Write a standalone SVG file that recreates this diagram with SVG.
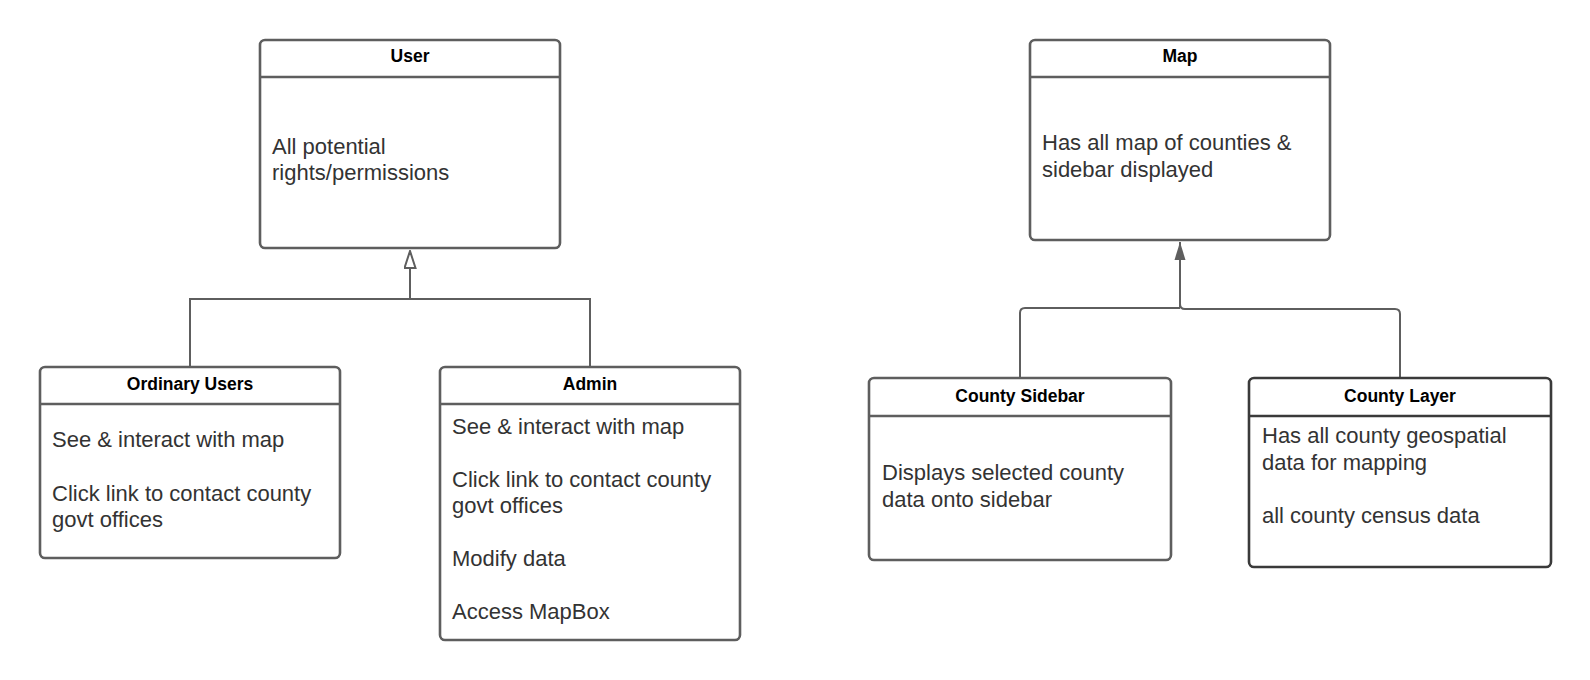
<svg xmlns="http://www.w3.org/2000/svg" width="1590" height="680" viewBox="0 0 1590 680">
<style>
.box{fill:#ffffff;stroke:#5e5e5e;stroke-width:2.6}
.dark{stroke:#3a3a3a}
.div{stroke:#5e5e5e;stroke-width:2.6}
.divd{stroke:#3a3a3a;stroke-width:2.6}
.title{font-family:"Liberation Sans",Arial,sans-serif;font-size:17.5px;font-weight:bold;fill:#000000;text-anchor:middle}
.body{font-family:"Liberation Sans",Arial,sans-serif;font-size:22px;fill:#333333}
.conn{fill:none;stroke:#5e5e5e;stroke-width:2}
</style>
<defs>
<marker id="hollow" markerWidth="19" markerHeight="13" refX="18" refY="6.5" orient="auto" markerUnits="userSpaceOnUse" viewBox="0 0 19 13">
<path d="M18,6.5 L1,1 L1,12 Z" fill="#ffffff" stroke="#5e5e5e" stroke-width="2" stroke-linejoin="miter"/>
</marker>
<marker id="filled" markerWidth="19" markerHeight="13" refX="18" refY="6.5" orient="auto" markerUnits="userSpaceOnUse" viewBox="0 0 19 13">
<path d="M18,6.5 L0,1 L0,12 Z" fill="#5e5e5e" stroke="none"/>
</marker>
</defs>
<rect width="1590" height="680" fill="#ffffff"/>
<g id="connectors">
<path class="conn" d="M190,367 V299 H590 V367"/>
<path class="conn" d="M410,299 V251" marker-end="url(#hollow)"/>
<path class="conn" d="M1020,378 V313 Q1020,308 1025,308 H1180"/>
<path class="conn" d="M1400,378 V314 Q1400,309 1395,309 H1185 Q1180,309 1180,304"/>
<path class="conn" d="M1180,308 V242" marker-end="url(#filled)"/>
</g>
<g id="user">
<rect class="box" x="260" y="40" width="300" height="208" rx="5"/>
<line class="div" x1="260" y1="77" x2="560" y2="77"/>
<text class="title" x="410" y="62">User</text>
<text class="body" x="272" y="154">All potential</text>
<text class="body" x="272" y="180">rights/permissions</text>
</g>
<g id="ordinary-users">
<rect class="box" x="40" y="367" width="300" height="191" rx="5"/>
<line class="div" x1="40" y1="404" x2="340" y2="404"/>
<text class="title" x="190" y="390">Ordinary Users</text>
<text class="body" x="52" y="447">See &amp; interact with map</text>
<text class="body" x="52" y="501">Click link to contact county</text>
<text class="body" x="52" y="527">govt offices</text>
</g>
<g id="admin">
<rect class="box" x="440" y="367" width="300" height="273" rx="5"/>
<line class="div" x1="440" y1="404" x2="740" y2="404"/>
<text class="title" x="590" y="390">Admin</text>
<text class="body" x="452" y="434">See &amp; interact with map</text>
<text class="body" x="452" y="487">Click link to contact county</text>
<text class="body" x="452" y="513">govt offices</text>
<text class="body" x="452" y="566">Modify data</text>
<text class="body" x="452" y="619">Access MapBox</text>
</g>
<g id="map">
<rect class="box" x="1030" y="40" width="300" height="200" rx="5"/>
<line class="div" x1="1030" y1="77" x2="1330" y2="77"/>
<text class="title" x="1180" y="62">Map</text>
<text class="body" x="1042" y="150">Has all map of counties &amp;</text>
<text class="body" x="1042" y="177">sidebar displayed</text>
</g>
<g id="county-sidebar">
<rect class="box" x="869" y="378" width="302" height="182" rx="5"/>
<line class="div" x1="869" y1="416" x2="1171" y2="416"/>
<text class="title" x="1020" y="402">County Sidebar</text>
<text class="body" x="882" y="480">Displays selected county</text>
<text class="body" x="882" y="507">data onto sidebar</text>
</g>
<g id="county-layer">
<rect class="box dark" x="1249" y="378" width="302" height="189" rx="5"/>
<line class="divd" x1="1249" y1="416" x2="1551" y2="416"/>
<text class="title" x="1400" y="402">County Layer</text>
<text class="body" x="1262" y="443">Has all county geospatial</text>
<text class="body" x="1262" y="470">data for mapping</text>
<text class="body" x="1262" y="523">all county census data</text>
</g>
</svg>
